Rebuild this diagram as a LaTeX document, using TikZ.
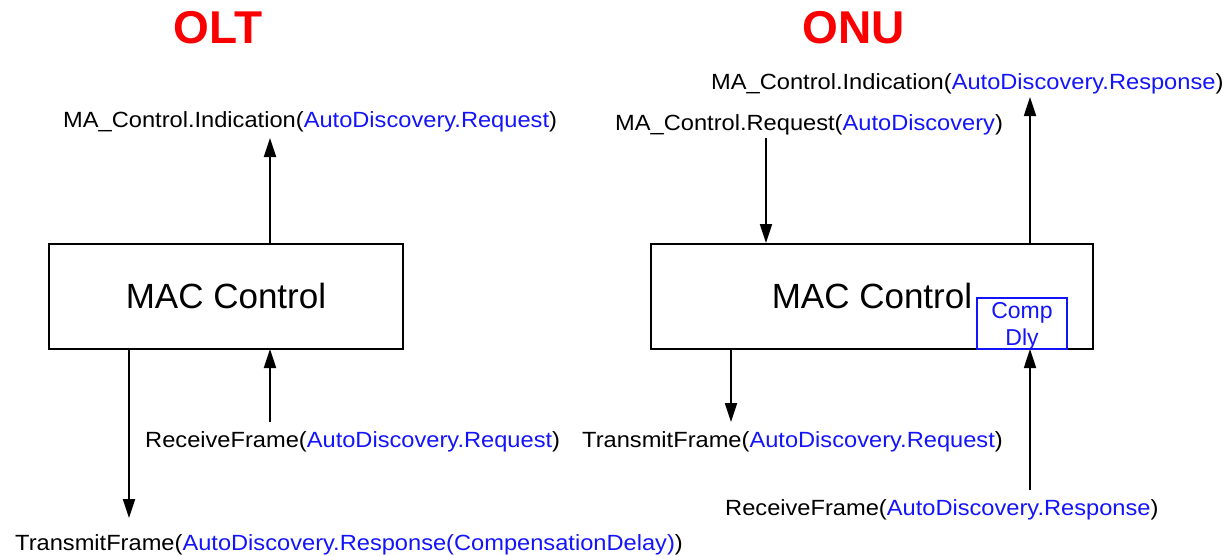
\documentclass[tikz,border=0pt]{standalone}
\usepackage{fontspec}
\setmainfont{Liberation Sans}
\usetikzlibrary{arrows.meta}
\definecolor{sigblue}{RGB}{20,20,250}
\definecolor{titlered}{RGB}{250,0,0}
\tikzset{
  block/.style={draw, line width=1.6pt, inner sep=0pt},
  title/.style={text=titlered, font=\fontsize{46}{50}\selectfont\bfseries},
  sig/.style={font=\fontsize{22}{24}\selectfont, inner sep=0pt},
  flow/.style={line width=1.8pt, -{Triangle[length=19pt,width=12pt]}},
}
\newcommand{\prim}[3]{\scalebox{1.075}[1]{#1\textcolor{sigblue}{#2}#3}}
\begin{document}
\begin{tikzpicture}[x=1pt,y=-1pt]
\useasboundingbox (0,0) rectangle (1224,555);
% headings
\node[title] (olt) at (218,28) {OLT};
\node[title] (onu) at (854,28) {ONU};

% OLT side
\node[block, minimum width=354pt, minimum height=105pt] (macL) at (226,296.5) {};
\node[font=\fontsize{35}{38}\selectfont] (macLt) at (226,296) {MAC Control};
\node[sig, anchor=west] (indL) at (63,122) {\prim{MA\_Control.Indication(}{AutoDiscovery.Request}{)}};
\node[sig, anchor=west] (rxL) at (145,442) {\prim{ReceiveFrame(}{AutoDiscovery.Request}{)}};
\node[sig, anchor=west] (txL) at (15,545) {\prim{TransmitFrame(}{AutoDiscovery.Response(CompensationDelay)}{)}};
\coordinate (upL1) at (270,243);
\coordinate (upL2) at (270,138);
\coordinate (dnL1) at (129,349);
\coordinate (dnL2) at (129,518);
\coordinate (rxL1) at (270,422);
\coordinate (rxL2) at (270,349);
\draw[flow] (upL1) -- (upL2);
\draw[flow] (dnL1) -- (dnL2);
\draw[flow] (rxL1) -- (rxL2);

% ONU side
\node[block, minimum width=442pt, minimum height=105pt] (macR) at (872,296.5) {};
\node[font=\fontsize{35}{38}\selectfont] (macRt) at (872,296) {MAC Control};
\node[draw=sigblue, line width=1.4pt, minimum width=90pt, minimum height=51pt, inner sep=0pt] (comp) at (1022,323.5) {};
\node[text=sigblue, font=\fontsize{23}{27}\selectfont, align=center] (compt) at (1022,326) {Comp\\Dly};
\node[sig, anchor=west] (indR) at (711,84) {\prim{MA\_Control.Indication(}{AutoDiscovery.Response}{)}};
\node[sig, anchor=west] (reqR) at (615,125) {\prim{MA\_Control.Request(}{AutoDiscovery}{)}};
\node[sig, anchor=west] (txR) at (582,442) {\prim{TransmitFrame(}{AutoDiscovery.Request}{)}};
\node[sig, anchor=west] (rxR) at (725,510) {\prim{ReceiveFrame(}{AutoDiscovery.Response}{)}};
\coordinate (reqR1) at (766,138);
\coordinate (reqR2) at (766,243);
\coordinate (upR1) at (1030,243);
\coordinate (upR2) at (1030,97);
\coordinate (txR1) at (731,349);
\coordinate (txR2) at (731,422);
\coordinate (rxR1) at (1030,490);
\coordinate (rxR2) at (1030,349);
\draw[flow] (reqR1) -- (reqR2);
\draw[flow] (upR1) -- (upR2);
\draw[flow] (txR1) -- (txR2);
\draw[flow] (rxR1) -- (rxR2);
\end{tikzpicture}
\end{document}
